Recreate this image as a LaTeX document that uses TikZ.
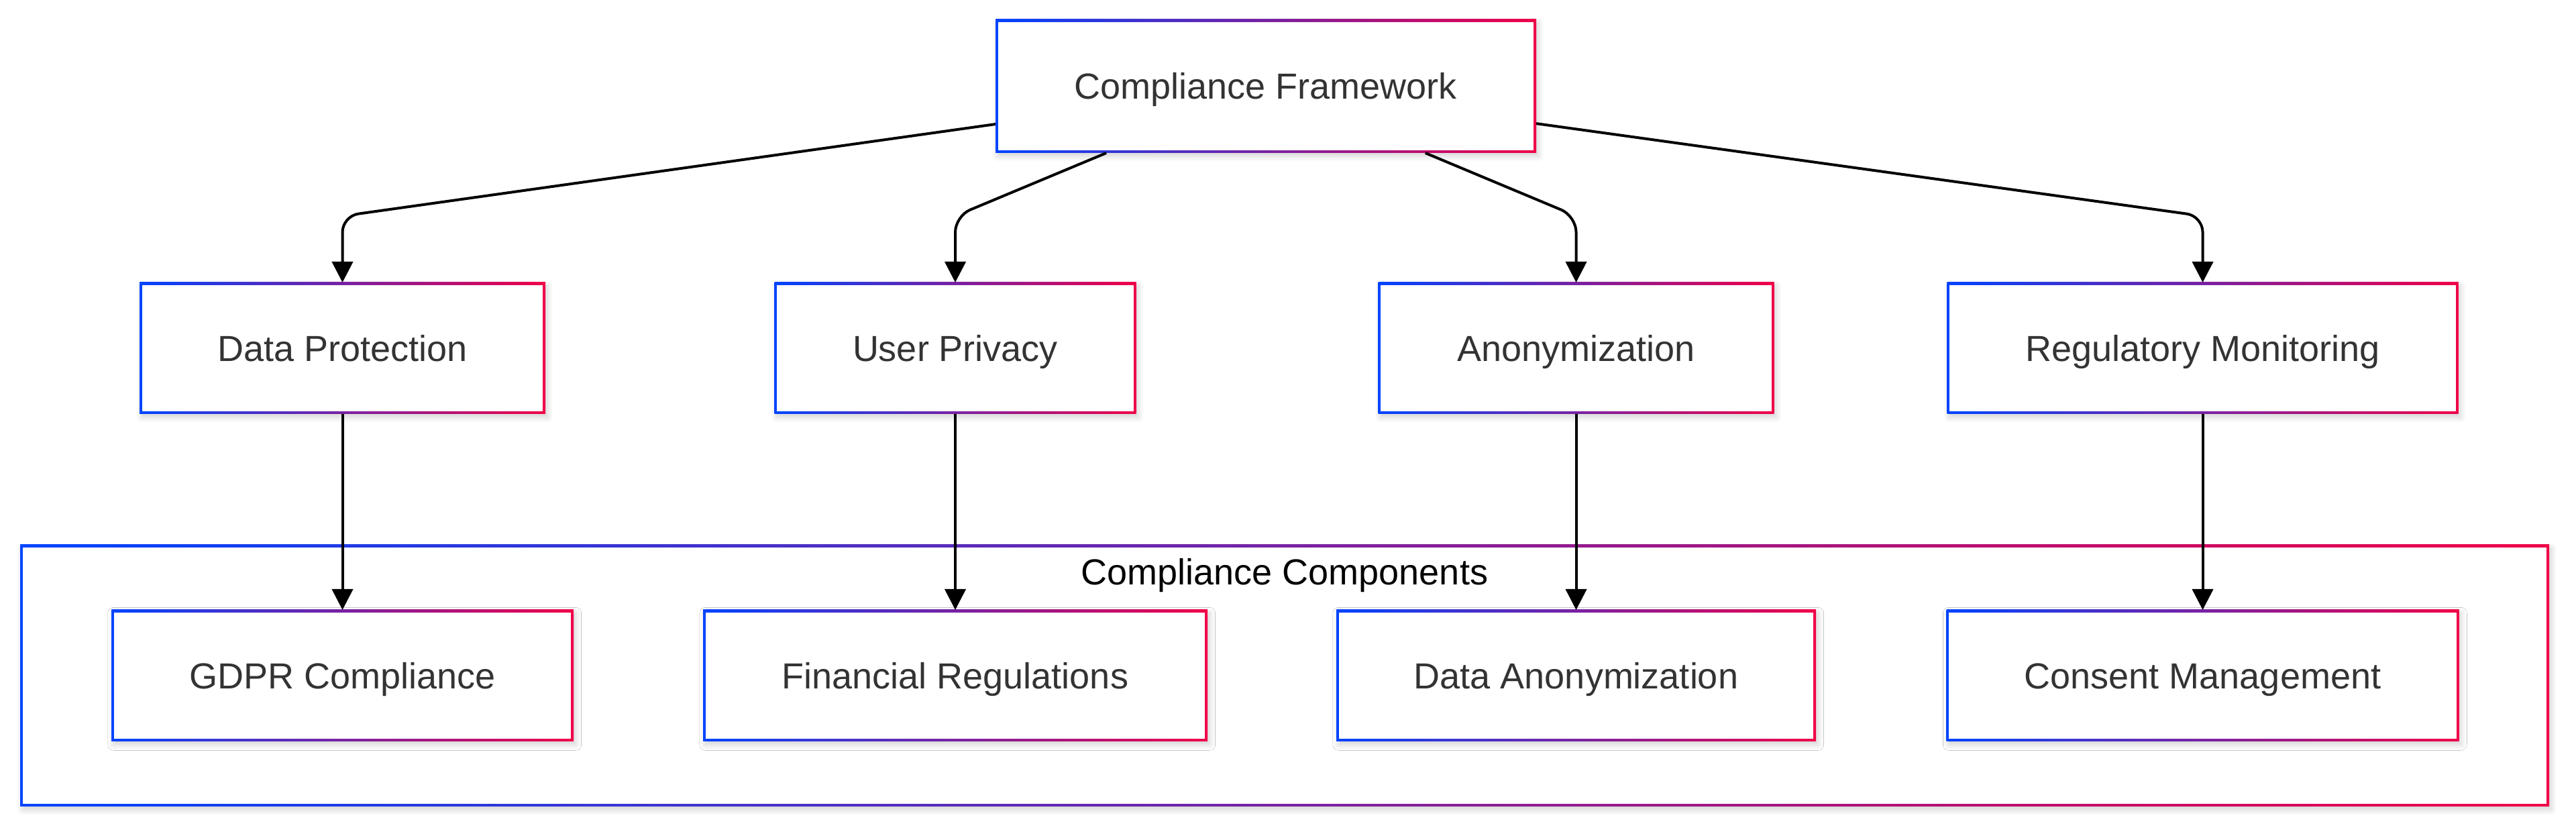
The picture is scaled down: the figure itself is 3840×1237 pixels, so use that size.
\documentclass[tikz,border=0pt]{standalone}
\usepackage{fontspec}
\setmainfont{Liberation Sans}
\usetikzlibrary{arrows.meta,shadows.blur}
\definecolor{gblue}{RGB}{0,68,255}
\definecolor{gred}{RGB}{240,0,72}
\definecolor{txt}{RGB}{51,51,51}
\tikzset{
  gbox/.style={rectangle, inner sep=0pt, outer sep=0pt, minimum height=196*0.25pt,
    text=txt, font=\fontsize{13.5}{16}\selectfont, text height=9.67pt, text depth=0pt, fill=white,
    blur shadow={shadow xshift=0.8pt, shadow yshift=-1.2pt, shadow blur steps=8, shadow opacity=18},
    path picture={
      \shade[left color=gblue, right color=gred]
        (path picture bounding box.south west) rectangle (path picture bounding box.north east);
      \fill[white] ([shift={(0.9pt,0.9pt)}]path picture bounding box.south west)
        rectangle ([shift={(-0.9pt,-0.9pt)}]path picture bounding box.north east);
    }},
  link/.style={line width=1pt, black, -{Triangle[width=7.8pt,length=7.8pt]}, rounded corners=6pt},
  lbl/.style={inner sep=0pt, font=\fontsize{13.5}{16}\selectfont, text height=9.67pt, text depth=0pt, text=black},
}
\begin{document}
\begin{tikzpicture}[x=0.25pt,y=-0.25pt]
\useasboundingbox (0,0) rectangle (3840,1237);
% cluster
\node[gbox, minimum width=3770*0.25pt, minimum height=390*0.25pt] (cluster) at (1915,1007) {};
\node[lbl] (cclabel) at (1915,852) {Compliance Components};
% top
\node[gbox, minimum width=806*0.25pt, minimum height=199*0.25pt] (top) at (1887,128.5) {Compliance Framework};
% row 2
\node[gbox, minimum width=605*0.25pt] (dp) at (510.5,519) {Data Protection};
\node[gbox, minimum width=539*0.25pt] (up) at (1424,519) {User Privacy};
\node[gbox, minimum width=590*0.25pt] (an) at (2349.5,519) {Anonymization};
\node[gbox, minimum width=762*0.25pt] (rm) at (3283.5,519) {Regulatory Monitoring};
% row 3
\node[gbox, minimum width=689*0.25pt] (gdpr) at (510.5,1007) {GDPR Compliance};
\node[gbox, minimum width=752*0.25pt] (fin) at (1424,1007) {Financial Regulations};
\node[gbox, minimum width=715*0.25pt] (da) at (2349.5,1007) {Data Anonymization};
\node[gbox, minimum width=764*0.25pt] (cm) at (3283.5,1007) {Consent Management};
% bends
\coordinate (b1) at (510.5,322);
\coordinate (b2) at (1424,322);
\coordinate (b3) at (2349.5,322);
\coordinate (b4) at (3283.5,322);
\draw[link] (top) -- (b1) -- (dp.north);
\draw[link] (top) -- (b2) -- (up.north);
\draw[link] (top) -- (b3) -- (an.north);
\draw[link] (top) -- (b4) -- (rm.north);
\draw[link] (dp.south) -- (gdpr.north);
\draw[link] (up.south) -- (fin.north);
\draw[link] (an.south) -- (da.north);
\draw[link] (rm.south) -- (cm.north);
\end{tikzpicture}
\end{document}
